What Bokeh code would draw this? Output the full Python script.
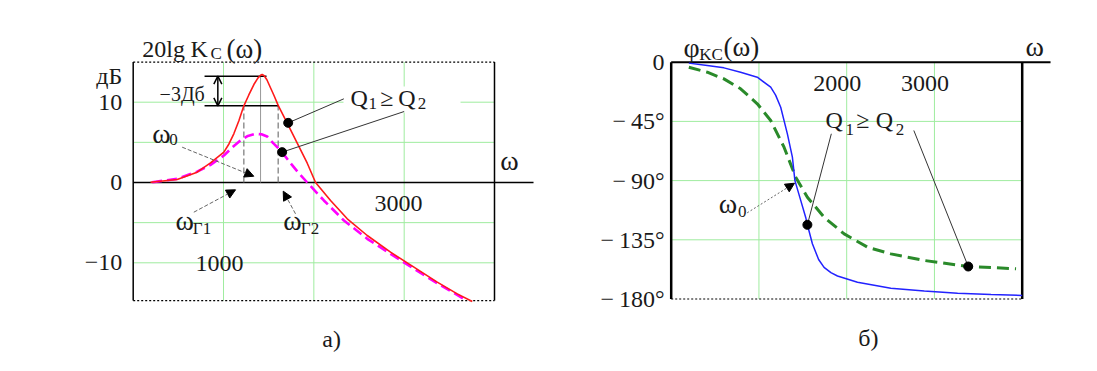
from bokeh.plotting import figure
from bokeh.models import Range1d, Arrow, NormalHead, OpenHead, Label
from bokeh.layouts import row
from bokeh.embed import file_html
from bokeh.resources import INLINE

SERIF = "Liberation Serif"

# ---------------- data: panel a) 20lg Kc(w), dB ----------------
omega_a_q1 = [192, 487, 708, 856, 1004, 1060, 1114, 1170, 1225, 1280, 1336, 1380, 1410,
              1428, 1450, 1480, 1520, 1560, 1605, 1705, 1816, 1927, 2019, 2185, 2370,
              2591, 2849, 3108, 3366, 3588, 3754]
db_q1 = [0.04, 0.37, 1.29, 2.45, 3.78, 4.8, 6.06, 7.7, 9.55, 10.9, 12.2, 13.0, 13.35,
         13.45, 13.3, 12.8, 11.8, 10.8, 9.6, 7.4, 4.9, 2.4, 0.0, -2.24, -4.52,
         -6.6, -8.68, -10.54, -12.41, -13.87, -14.82]

omega_a_q2 = [210, 487, 708, 856, 1004, 1100, 1188, 1270, 1354, 1420, 1483, 1550, 1605,
              1650, 1742, 1830, 1927, 2111, 2333, 2591, 2849, 3108, 3366, 3661]
db_q2 = [0.04, 0.46, 1.35, 2.2, 3.36, 4.4, 5.23, 5.8, 6.06, 6.0, 5.73, 4.9, 4.3,
         3.75, 2.4, 1.2, 0.0, -2.24, -4.73, -7.01, -8.88, -10.75, -12.54, -14.49]

# ---------------- data: panel б) phase, degrees ----------------
omega_b_q1 = [201, 411, 601, 791, 981, 1134, 1190, 1248, 1324, 1381, 1410, 1476, 1533,
              1552, 1609, 1680, 1742, 1820, 1895, 2123, 2503, 2884, 3264, 3645, 4000]
phi_q1 = [-0.7, -2.5, -4.3, -7.6, -11.4, -19.0, -25.0, -34.2, -54.5, -72.2, -90.0,
          -105.0, -118.0, -123.6, -138.0, -150.0, -156.0, -160.0, -162.5, -167.2,
          -171.8, -174.0, -175.6, -176.6, -177.3]

omega_b_q2 = [201, 411, 601, 791, 981, 1134, 1286, 1419, 1552, 1742, 1971, 2237, 2503,
              2884, 3379, 3930]
phi_q2 = [-3.8, -7.6, -12.7, -20.2, -31.6, -44.3, -64.6, -87.4, -102.6, -117.8, -130.5,
          -140.6, -145.7, -150.7, -155.3, -157.0]

# characteristic points (panel a)
omega_0 = 1410
omega_g1 = 1225
omega_g2 = 1605
db_peak = 13.24
db_3 = 9.55

# marked points
dot_a_omega = [1716, 1649]
dot_a_db = [7.43, 3.78]
dot_b_omega = [1552, 3385]
dot_b_phi = [-123.6, -155.3]

# grid / ticks
omega_max = 4000
amp_top, amp_bot = 15, -14.7
phase_top, phase_bot = 0, -180
amp_grid_x = [1000, 2000, 3000]
amp_grid_y = [-10, -5, 5, 10]
amp_tick_vals = [10, 0, -10]
amp_tick_labels = ["10", "0", "\u221210"]
phase_grid_x = [1000, 2000, 3000]
phase_grid_y = [-45, -90, -135]
phase_tick_vals = [0, -45, -90, -135, -180]
phase_tick_labels = ["0", "\u2212\u200945\u00b0", "\u2212\u200990\u00b0",
                     "\u2212\u2009135\u00b0", "\u2212\u2009180\u00b0"]
amp_x_ticks = [1000, 3000]
phase_x_ticks = [2000, 3000]

GRID = "#9fec9f"
TXT = "#1a1a1a"
FS = 24      # main text size
FW = 28      # omega symbol size
FSUB = 17    # subscripts


def lab(p, x, y, s, size=FS, align="left", baseline="middle", xo=0, yo=0):
    p.add_layout(Label(x=x, y=y, text=s, text_font=SERIF, text_font_size=f"{size}px",
                       text_align=align, text_baseline=baseline, text_color=TXT,
                       x_offset=xo, y_offset=yo))


def arrow(p, x0, y0, x1, y1, dash="4 2", color="#666666"):
    p.add_layout(Arrow(end=NormalHead(size=9, fill_color="black", line_color="black"),
                       x_start=x0, y_start=y0, x_end=x1, y_end=y1,
                       line_color=color, line_width=1, line_dash=dash))


def base_fig(w, h, xr, yr):
    p = figure(width=w, height=h, x_range=Range1d(*xr), y_range=Range1d(*yr),
               x_axis_type=None, y_axis_type=None, toolbar_location=None,
               output_backend="svg", min_border=0, min_border_left=0,
               min_border_right=0, min_border_top=0, min_border_bottom=0)
    p.outline_line_color = None
    p.background_fill_color = "white"
    p.border_fill_color = "white"
    return p


# ================= panel a =================
pa = base_fig(560, 362, (-1469.1, 4730.7), (-22.416, 22.665))

pa.segment(x0=amp_grid_x, y0=[amp_bot] * 3, x1=amp_grid_x, y1=[amp_top] * 3,
           line_color=GRID, line_width=1)
pa.segment(x0=[0] * 4, y0=amp_grid_y, x1=[omega_max] * 4, y1=amp_grid_y,
           line_color=GRID, line_width=1)
# white box behind Q-label
pa.quad(left=[2328], right=[3624], top=[11.96], bottom=[8.72], fill_color="white",
        line_color=None)
# frame
pa.segment(x0=[0, omega_max], y0=[amp_bot, amp_bot], x1=[0, omega_max], y1=[amp_top, amp_top],
           line_color="black", line_width=1.5)
pa.segment(x0=[0, 0], y0=[amp_top, amp_bot], x1=[omega_max, omega_max], y1=[amp_top, amp_bot],
           line_color="black", line_width=1.2, line_dash="2 2")
pa.segment(x0=[0], y0=[0], x1=[4432], y1=[0], line_color="black", line_width=1.5)

# marker lines
pa.segment(x0=[omega_g1, omega_g2], y0=[0, 0], x1=[omega_g1, omega_g2], y1=[db_3, db_3],
           line_color="#777777", line_width=1.2, line_dash="6 3")
pa.segment(x0=[omega_0], y0=[0], x1=[omega_0], y1=[db_peak], line_color="#999999", line_width=1)
pa.segment(x0=[790, 790], y0=[db_peak, db_3], x1=[1476, 1612], y1=[db_peak, db_3],
           line_color="black", line_width=1.5)
pa.add_layout(Arrow(start=OpenHead(size=8, line_width=1.5), end=OpenHead(size=8, line_width=1.5),
                    x_start=937, y_start=db_3, x_end=937, y_end=db_peak,
                    line_color="black", line_width=1.5))

# curves
pa.line(omega_a_q2, db_q2, line_color="#ff00ff", line_width=2.6, line_dash="10 5")
pa.line(omega_a_q1, db_q1, line_color="#ff1a1a", line_width=1.6)

# leaders + dots
pa.segment(x0=[2332, 3000], y0=[10.42, 8.84], x1=dot_a_omega, y1=dot_a_db,
           line_color="#333333", line_width=1)
pa.scatter(dot_a_omega, dot_a_db, size=9, color="black")

# arrows
arrow(pa, 542, 4.4, 1335, 0.78)
arrow(pa, 671, -3.7, 1133, -0.91)
arrow(pa, 1797, -3.9, 1661, -1.08)

# texts
lab(pa, 100, 16.63, "20lg", baseline="alphabetic")
lab(pa, 634, 16.63, "K", baseline="alphabetic")
lab(pa, 856, 16.06, "C", size=FSUB, baseline="alphabetic")
lab(pa, 1033, 16.63, "(\u03c9)", size=27, baseline="alphabetic")
lab(pa, -120, 13.3, "\u0434\u0411", align="right")
for v, t in zip(amp_tick_vals, amp_tick_labels):
    lab(pa, -120, v, t, align="right")
lab(pa, 542, 11.0, "\u22123\u0414\u0431", size=20, align="center")
lab(pa, 210, 6.06, "\u03c9", size=FW)
lab(pa, 400, 5.3, "0", size=FSUB)
lab(pa, 468, -4.73, "\u03c9", size=FW)
lab(pa, 660, -5.79, "\u03931", size=FSUB)
lab(pa, 1661, -4.73, "\u03c9", size=FW)
lab(pa, 1856, -5.79, "\u03932", size=FSUB)
lab(pa, 2406, 10.52, "Q")
lab(pa, 2605, 9.84, "1", size=FSUB)
lab(pa, 2735, 10.52, "\u2265")
lab(pa, 2935, 10.52, "Q")
lab(pa, 3150, 9.84, "2", size=FSUB)
lab(pa, 4167, 2.74, "\u03c9", size=FW, align="center")
lab(pa, 955, -10.12, "1000", align="center")
lab(pa, 2937, -2.66, "3000", align="center")
lab(pa, 2196, -19.43, "\u0430)", align="center")

# ================= panel b =================
pb = base_fig(529, 362, (-1261.5, 4767.0), (-228.26, 46.90))

pb.segment(x0=phase_grid_x, y0=[phase_bot] * 3, x1=phase_grid_x, y1=[phase_top] * 3,
           line_color=GRID, line_width=1)
pb.segment(x0=[0] * 3, y0=phase_grid_y, x1=[omega_max] * 3, y1=phase_grid_y,
           line_color=GRID, line_width=1)
pb.segment(x0=[0, omega_max], y0=[phase_bot, phase_bot], x1=[0, omega_max], y1=[phase_top, phase_top],
           line_color="black", line_width=2.5)
pb.segment(x0=[0], y0=[phase_bot], x1=[omega_max], y1=[phase_bot],
           line_color="black", line_width=1.2, line_dash="2 2")
pb.segment(x0=[0], y0=[0], x1=[4323], y1=[0], line_color="black", line_width=2)

pb.line(omega_b_q2, phi_q2, line_color="#2a8a2a", line_width=3, line_dash="12 6")
pb.line(omega_b_q1, phi_q1, line_color="#2222ff", line_width=1.5)

pb.segment(x0=[1825, 2765], y0=[-54.4, -51.9], x1=dot_b_omega, y1=dot_b_phi,
           line_color="#333333", line_width=1)
pb.scatter(dot_b_omega, dot_b_phi, size=9, color="black")
arrow(pb, 866, -114.5, 1405, -92, dash="2 2")

lab(pb, 140, 11.2, "\u03c6", baseline="alphabetic", size=FW)
lab(pb, 320, 5.85, "KC", size=FSUB, baseline="alphabetic")
lab(pb, 596, 11.2, "(\u03c9)", size=27, baseline="alphabetic")
for v, t in zip(phase_tick_vals, phase_tick_labels):
    lab(pb, -76, v, t, align="right")
for v in phase_x_ticks:
    lab(pb, v - 108, -16.4, str(v), align="center")
lab(pb, 4142, 11.9, "\u03c9", size=FW, align="center")
lab(pb, 542, -107.6, "\u03c9", size=FW)
lab(pb, 760, -113.5, "0", size=FSUB)
lab(pb, 1758, -44.3, "Q")
lab(pb, 1986, -51.2, "1", size=FSUB)
lab(pb, 2110, -44.3, "\u2265")
lab(pb, 2330, -44.3, "Q")
lab(pb, 2560, -51.2, "2", size=FSUB)
lab(pb, 2248, -210, "\u0431)", align="center")

layout = row(pa, pb)
open("out.html", "w").write(file_html(layout, INLINE))
